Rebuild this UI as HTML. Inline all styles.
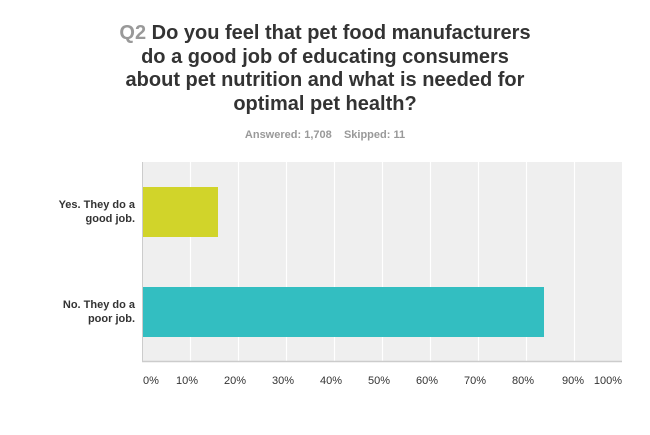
<!DOCTYPE html>
<html><head><style>
body{margin:0;width:650px;height:435px;background:#fff;font-family:"Liberation Sans",Arial,sans-serif;position:relative;overflow:hidden}
.t{position:absolute;left:0;width:650px;text-align:center;font-weight:bold;font-size:20px;line-height:23.5px;color:#333;top:22px}
.s{position:absolute;left:0;width:650px;text-align:center;top:129px;font-size:11px;font-weight:bold;color:#999}
.lab{position:absolute;right:515px;text-align:right;font-size:11px;font-weight:bold;color:#333;line-height:14px}
.tk{position:absolute;top:375px;font-size:11px;color:#333;width:40px;text-align:center}
</style></head><body>
<div class="t"><span style="color:#999">Q2</span> Do you feel that pet food manufacturers<br>do a good job of educating consumers<br>about pet nutrition and what is needed for<br>optimal pet health?</div>
<div class="s">Answered: 1,708&nbsp;&nbsp;&nbsp;&nbsp;Skipped: 11</div>
<svg style="position:absolute;left:0;top:0" width="650" height="435">
<rect x="142" y="162" width="480" height="199" fill="#efefef"/>
<g stroke="#fff" stroke-width="1.2">
<line x1="190.5" y1="162" x2="190.5" y2="361"/><line x1="238.5" y1="162" x2="238.5" y2="361"/>
<line x1="286.5" y1="162" x2="286.5" y2="361"/><line x1="334.5" y1="162" x2="334.5" y2="361"/>
<line x1="382.5" y1="162" x2="382.5" y2="361"/><line x1="430.5" y1="162" x2="430.5" y2="361"/>
<line x1="478.5" y1="162" x2="478.5" y2="361"/><line x1="526.5" y1="162" x2="526.5" y2="361"/>
<line x1="574.5" y1="162" x2="574.5" y2="361"/>
</g>
<rect x="143" y="187" width="75" height="50" fill="#d1d42a"/>
<rect x="143" y="287" width="401" height="50" fill="#33bec1"/>
<line x1="142.5" y1="162" x2="142.5" y2="362" stroke="#ccc" stroke-width="1"/>
<line x1="142" y1="361.5" x2="622" y2="361.5" stroke="#ccc" stroke-width="1.5"/>
</svg>
<div class="lab" style="top:198px">Yes. They do a<br>good job.</div>
<div class="lab" style="top:298px">No. They do a<br>poor job.</div>
<div class="tk" style="left:143px;text-align:left">0%</div>
<div class="tk" style="left:167px">10%</div>
<div class="tk" style="left:215px">20%</div>
<div class="tk" style="left:263px">30%</div>
<div class="tk" style="left:311px">40%</div>
<div class="tk" style="left:359px">50%</div>
<div class="tk" style="left:407px">60%</div>
<div class="tk" style="left:455px">70%</div>
<div class="tk" style="left:503px">80%</div>
<div class="tk" style="left:553px">90%</div>
<div class="tk" style="left:582px;text-align:right">100%</div>
</body></html>
